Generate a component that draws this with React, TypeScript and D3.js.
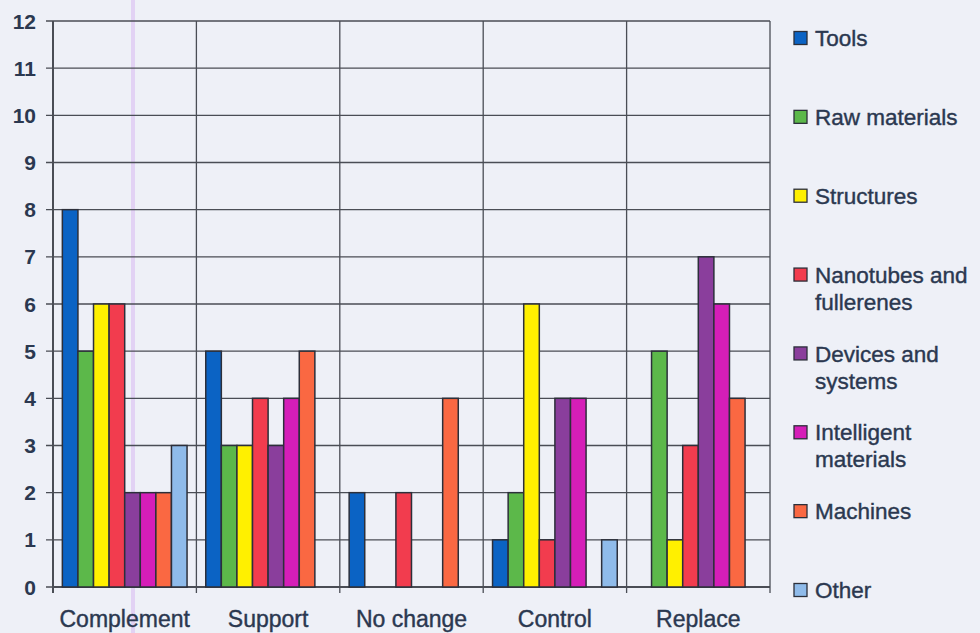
import React from "react";
import * as d3 from "d3";

// Chart data
const categories = ["Complement", "Support", "No change", "Control", "Replace"];
const seriesNames = [
  "Tools",
  "Raw materials",
  "Structures",
  "Nanotubes and fullerenes",
  "Devices and systems",
  "Intelligent materials",
  "Machines",
  "Other",
];
const legendLines = [
  ["Tools"],
  ["Raw materials"],
  ["Structures"],
  ["Nanotubes and", "fullerenes"],
  ["Devices and", "systems"],
  ["Intelligent", "materials"],
  ["Machines"],
  ["Other"],
];
const toolsValues = [8, 5, 2, 1, 0];
const rawMaterialsValues = [5, 3, 0, 2, 5];
const structuresValues = [6, 3, 0, 6, 1];
const nanotubesValues = [6, 4, 2, 1, 3];
const devicesValues = [2, 3, 0, 4, 7];
const intelligentValues = [2, 4, 0, 4, 6];
const machinesValues = [2, 5, 4, 0, 4];
const otherValues = [3, 0, 0, 1, 0];
const seriesValues = [
  toolsValues,
  rawMaterialsValues,
  structuresValues,
  nanotubesValues,
  devicesValues,
  intelligentValues,
  machinesValues,
  otherValues,
];
const seriesColors = [
  "#0b63c4",
  "#5cb84a",
  "#fff000",
  "#f23c4e",
  "#8a3e9c",
  "#d51eb8",
  "#fa6842",
  "#8fbbea",
];
const yTicks = d3.range(0, 13);

const W = 980;
const H = 633;
const plot = { left: 53, right: 770, top: 21, bottom: 587 };
const textColor = "#2b3850";
const gridColor = "#4a4d55";
const font = "Liberation Sans, Arial, sans-serif";

export default function App() {
  const y = d3.scaleLinear().domain([0, 12]).range([plot.bottom, plot.top]);
  const x0 = d3
    .scaleBand<string>()
    .domain(categories)
    .range([plot.left, plot.right])
    .padding(0);
  const x1 = d3
    .scaleBand<string>()
    .domain(seriesNames)
    .range([0, x0.bandwidth()])
    .paddingInner(0)
    .paddingOuter(0.6);
  const legendY = d3
    .scalePoint<string>()
    .domain(seriesNames)
    .range([38, 590]);

  const boundaries = categories.map((c) => x0(c) as number).concat([plot.right]);

  return (
    <svg
      width={W}
      height={H}
      style={{ position: "absolute", left: 0, top: 0, display: "block" }}
      fontFamily={font}
    >
      <rect x={0} y={0} width={W} height={H} fill="#eef0f7" />

      {/* faint vertical streak across the plot */}
      <rect x={131} y={0} width={4} height={H} fill="#e2d2f4" />

      {/* horizontal gridlines */}
      {yTicks.map((t) => (
        <line
          key={`h${t}`}
          x1={plot.left - 7}
          x2={plot.right}
          y1={y(t)}
          y2={y(t)}
          stroke={gridColor}
          strokeWidth={1.3}
        />
      ))}

      {/* vertical category gridlines */}
      {boundaries.map((bx, i) => (
        <line
          key={`v${i}`}
          x1={bx}
          x2={bx}
          y1={plot.top}
          y2={plot.bottom + 6}
          stroke={gridColor}
          strokeWidth={i === 0 ? 2 : 1.3}
        />
      ))}
      <line
        x1={plot.left}
        x2={plot.right}
        y1={plot.bottom}
        y2={plot.bottom}
        stroke={gridColor}
        strokeWidth={2}
      />

      {/* bars */}
      {categories.map((cat, ci) => (
        <g key={cat} transform={`translate(${x0(cat)},0)`}>
          {seriesNames.map((s, si) => {
            const v = seriesValues[si][ci];
            if (!v) return null;
            return (
              <rect
                key={s}
                x={x1(s)}
                y={y(v)}
                width={x1.bandwidth()}
                height={y(0) - y(v)}
                fill={seriesColors[si]}
                stroke="#2c2f3a"
                strokeWidth={1.5}
              />
            );
          })}
        </g>
      ))}

      {/* y tick labels */}
      {yTicks.map((t) => (
        <text
          key={`yl${t}`}
          x={36}
          y={y(t)}
          dy="0.36em"
          textAnchor="end"
          fontSize={21}
          fontWeight="bold"
          fill={textColor}
        >
          {t}
        </text>
      ))}

      {/* category labels */}
      {categories.map((c) => (
        <text
          key={`xl${c}`}
          x={(x0(c) as number) + x0.bandwidth() / 2}
          y={627}
          textAnchor="middle"
          fontSize={23}
          fill={textColor}
          stroke={textColor}
          strokeWidth={0.4}
        >
          {c}
        </text>
      ))}

      {/* legend */}
      {seriesNames.map((s, si) => {
        const cy = legendY(s) as number;
        return (
          <g key={`lg${s}`}>
            <rect
              x={794}
              y={cy - 6.5}
              width={13}
              height={13}
              fill={seriesColors[si]}
              stroke="#2c2f3a"
              strokeWidth={1.3}
            />
            <text
              x={815}
              y={cy}
              fontSize={22.5}
              fill={textColor}
              stroke={textColor}
              strokeWidth={0.4}
            >
              {legendLines[si].map((line, li) => (
                <tspan key={li} x={815} dy={li === 0 ? "0.36em" : 27}>
                  {line}
                </tspan>
              ))}
            </text>
          </g>
        );
      })}
    </svg>
  );
}
